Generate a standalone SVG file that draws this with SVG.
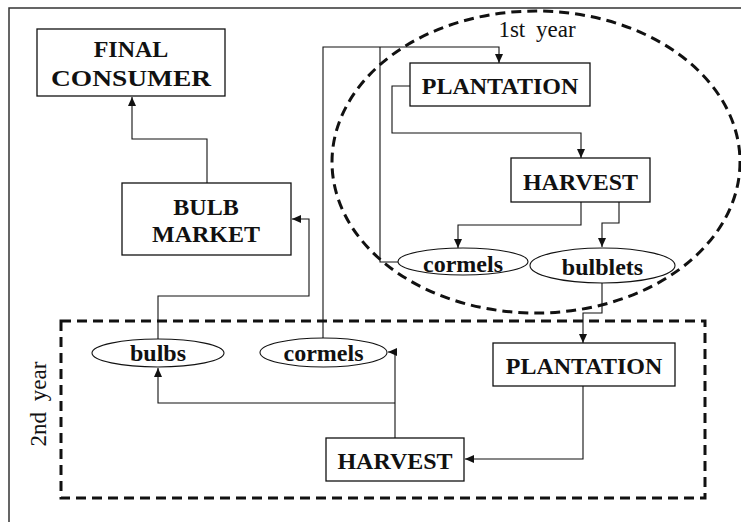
<svg xmlns="http://www.w3.org/2000/svg" width="741" height="522" viewBox="0 0 741 522">
<style>
.box{fill:#fff;stroke:#111;stroke-width:1.3}
.ell{fill:#fff;stroke:#111;stroke-width:1.1}
.t{font-family:"Liberation Serif","Times New Roman",serif;font-weight:bold;font-size:24px;fill:#111;text-anchor:middle}
.r{font-family:"Liberation Serif","Times New Roman",serif;font-size:23px;fill:#111;text-anchor:middle}
.c{fill:none;stroke:#111;stroke-width:1.1}
.dash{fill:none;stroke:#111;stroke-width:3;stroke-dasharray:10 6}
</style>
<defs>
<marker id="ah" markerWidth="9" markerHeight="8" refX="9" refY="4" orient="auto" markerUnits="userSpaceOnUse">
<path d="M0,0 L9,4 L0,8 Z" fill="#111"/>
</marker>
</defs>
<rect width="741" height="522" fill="#fff"/>
<path d="M9,522 V8 H741" fill="none" stroke="#333" stroke-width="1.5"/>
<g id="year1">
<ellipse cx="536" cy="162" rx="204" ry="151" class="dash"/>
<text x="537" y="37" class="r" word-spacing="5">1st year</text>
</g>
<g id="year2">
<rect x="61" y="321" width="644" height="177" class="dash" stroke-dasharray="9 5"/>
<text x="0" y="0" class="r" word-spacing="5" transform="translate(46,404) rotate(-90)">2nd year</text>
</g>
<g id="connectors">
<path class="c" d="M207,183 V139 H132 V97" marker-end="url(#ah)"/>
<path class="c" d="M158,339 V296 H309 V219 H292" marker-end="url(#ah)"/>
<path class="c" d="M323,338 V47 H499 V63" marker-end="url(#ah)"/>
<path class="c" d="M398,262 H380 V47"/>
<path class="c" d="M410,86 H392 V133 H581 V158" marker-end="url(#ah)"/>
<path class="c" d="M581,202 V225 H458 V248" marker-end="url(#ah)"/>
<path class="c" d="M619,202 V223 H602 V247" marker-end="url(#ah)"/>
<path class="c" d="M602,283 V313 H583 V343" marker-end="url(#ah)"/>
<path class="c" d="M583,386 V459 H465" marker-end="url(#ah)"/>
<path class="c" d="M395,438 V352 H388" marker-end="url(#ah)"/>
<path class="c" d="M395,403 H158 V368" marker-end="url(#ah)"/>
</g>
<g id="final-consumer">
<rect x="37" y="29" width="188" height="67" class="box"/>
<text x="131" y="57" class="t">FINAL</text>
<text x="131" y="86" class="t" textLength="160" lengthAdjust="spacingAndGlyphs">CONSUMER</text>
</g>
<g id="bulb-market">
<rect x="122" y="183" width="169" height="72" class="box"/>
<text x="206" y="215" class="t">BULB</text>
<text x="206" y="242" class="t">MARKET</text>
</g>
<g id="plantation1">
<rect x="410" y="63" width="180" height="43" class="box"/>
<text x="500" y="94" class="t">PLANTATION</text>
</g>
<g id="harvest1">
<rect x="511" y="158" width="139" height="44" class="box"/>
<text x="580.5" y="190" class="t">HARVEST</text>
</g>
<g id="cormels1">
<ellipse cx="463" cy="261.5" rx="65" ry="13.5" class="ell"/>
<text x="463" y="272" class="t">cormels</text>
</g>
<g id="bulblets">
<ellipse cx="602.5" cy="265.5" rx="72.5" ry="17.5" class="ell"/>
<text x="602.5" y="275" class="t">bulblets</text>
</g>
<g id="plantation2">
<rect x="493" y="343" width="182" height="43" class="box"/>
<text x="584" y="374" class="t">PLANTATION</text>
</g>
<g id="harvest2">
<rect x="326" y="438" width="138" height="43" class="box"/>
<text x="395" y="469" class="t">HARVEST</text>
</g>
<g id="bulbs">
<ellipse cx="158" cy="353" rx="66" ry="14" class="ell"/>
<text x="158" y="361" class="t">bulbs</text>
</g>
<g id="cormels2">
<ellipse cx="323.5" cy="352.5" rx="63.5" ry="14.5" class="ell"/>
<text x="323.5" y="361" class="t">cormels</text>
</g>
</svg>
